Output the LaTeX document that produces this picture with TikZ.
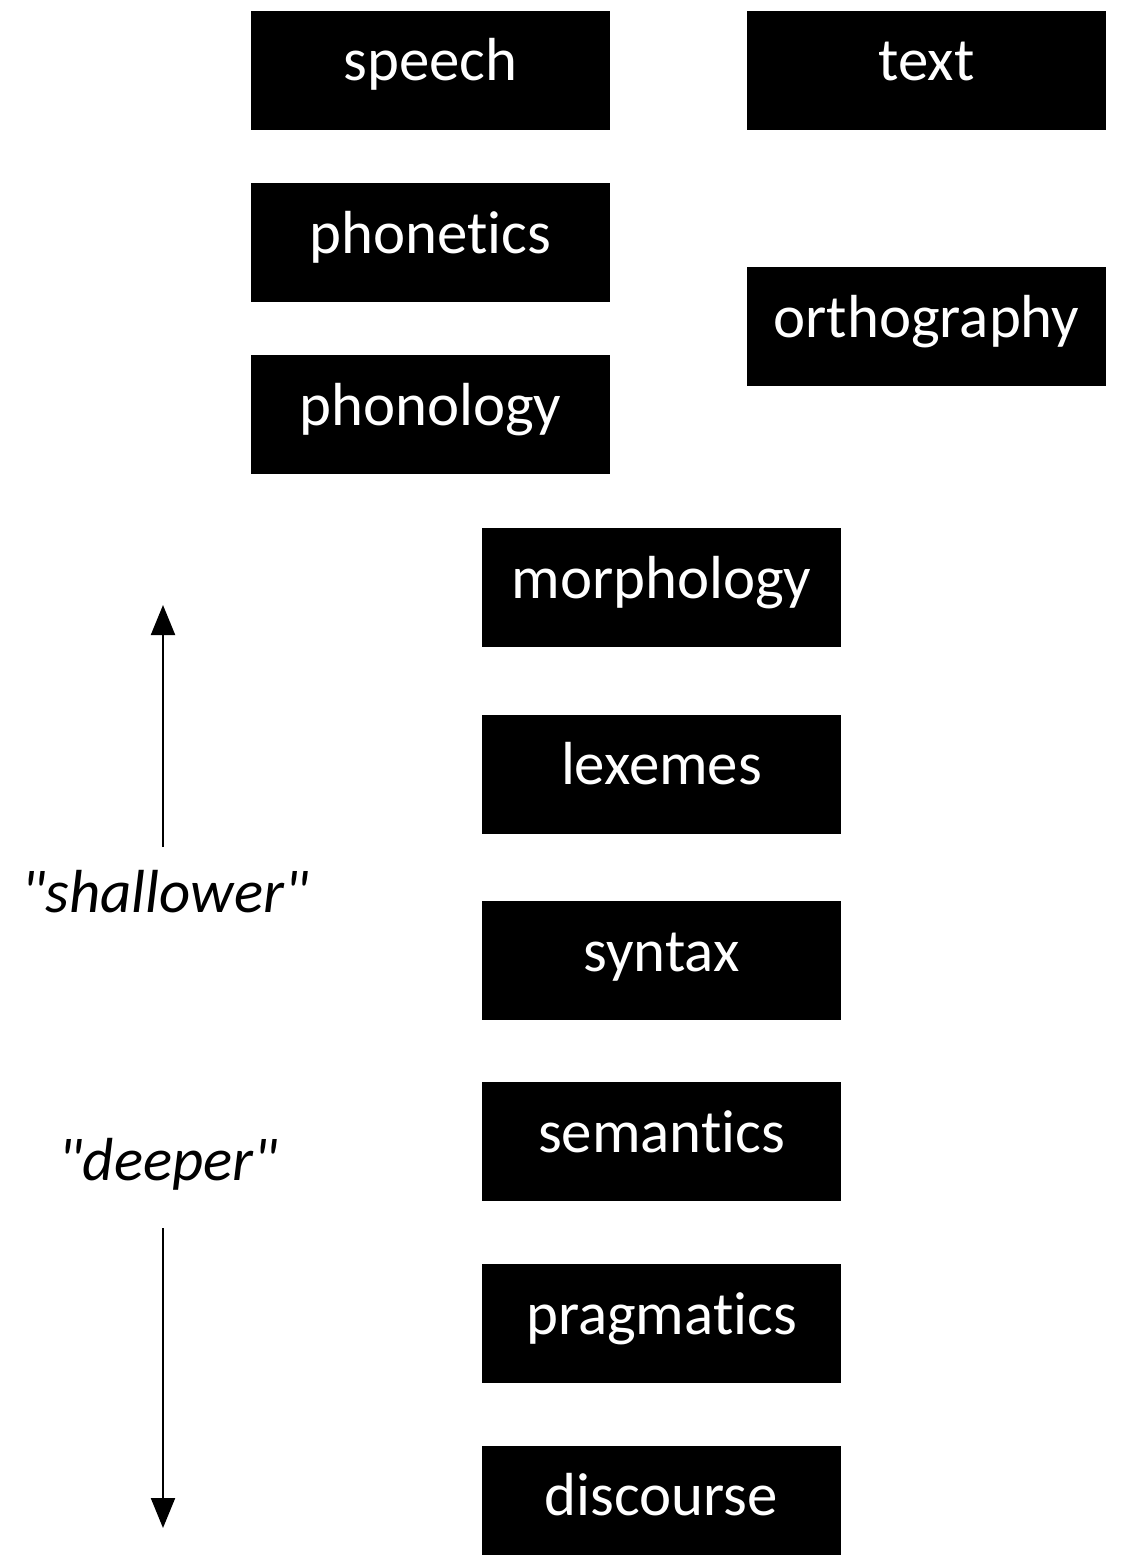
\documentclass[tikz,border=0pt]{standalone}
\usepackage{fontspec}
\setmainfont{Carlito}[Ligatures={NoCommon}]
\usetikzlibrary{arrows.meta,positioning}

\tikzset{
    niveau/.style={fill=black, text=white, minimum width=3.59cm, minimum height=1.19cm,
        inner sep=0pt, text height=0.9em, text depth=0.3em,
        font=\fontsize{17.3}{20}\selectfont},
    sens/.style={font=\fontsize{17.3}{20}\selectfont\itshape, inner sep=0pt,
        text height=0.7em, text depth=0.3em},
    fleche/.style={line width=0.6pt, -{Triangle[width=0.24cm,length=0.3cm]}}
}

\begin{document}
\begin{tikzpicture}
    % cadre
    \useasboundingbox (0,0) rectangle (11.21,-15.55);
    % \draw[red] (0,-16) grid (12,0);

    % oral / ecrit
    \node[niveau] (speech) at (4.305,-0.70) {speech};
    \node[niveau] (text) at (9.265,-0.70) {text};
    \node[niveau] (phonetics) at (4.305,-2.425) {phonetics};
    \node[niveau] (orthography) at (9.265,-3.265) {orthography};
    \node[niveau] (phonology) at (4.305,-4.145) {phonology};

    % colonne centrale
    \node[niveau] (morphology) at (6.615,-5.875) {morphology};
    \node[niveau] (lexemes) at (6.615,-7.74) {lexemes};
    \node[niveau] (syntax) at (6.615,-9.605) {syntax};
    \node[niveau] (semantics) at (6.615,-11.415) {semantics};
    \node[niveau] (pragmatics) at (6.615,-13.235) {pragmatics};
    \node[niveau] (discourse) at (6.615,-15.05) {discourse};

    % profondeur
    \node[sens] (shallower) at (1.65,-9.05) {\textquotedbl shallower\textquotedbl};
    \node[sens] (deeper) at (1.68,-11.73) {\textquotedbl deeper\textquotedbl};
    \coordinate (hautpied) at (1.63,-8.47);
    \coordinate (hautpointe) at (1.63,-6.05);
    \coordinate (baspied) at (1.63,-12.28);
    \coordinate (baspointe) at (1.63,-15.28);
    \draw[fleche] (hautpied) -- (hautpointe);
    \draw[fleche] (baspied) -- (baspointe);
\end{tikzpicture}
\end{document}
